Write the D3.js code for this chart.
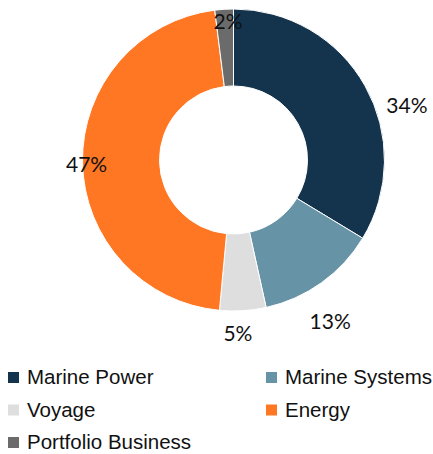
<!DOCTYPE html>
<html>
<head>
<meta charset="utf-8">
<script src="https://cdn.jsdelivr.net/npm/d3@7"></script>
<style>
  body { margin: 0; background: #fff; }
  svg { display: block; }
</style>
</head>
<body>
<div id="chart"></div>
<script>
// dati
var categories = ["Marine Power", "Marine Systems", "Voyage", "Energy", "Portfolio Business"];
var shares = [34, 13, 5, 47, 2];
var colors = ["#14344d", "#6693a6", "#dedede", "#ff7722", "#6b6b6b"];

// posizione etichette (raggio e spostamento angolare in gradi)
var labelR = [182, 187, 173, 147, 140];
var labelShift = [11.8, 4.5, 2.1, -0.6, 1.3];

var width = 433, height = 454;
var cx = 233.5, cy = 160, outerR = 151, innerR = 74;

var svg = d3.select("#chart")
  .append("svg")
    .attr("width", width)
    .attr("height", height);

var g = svg.append("g")
  .attr("transform", "translate(" + cx + "," + cy + ")");

var pie = d3.pie()
  .sort(null)
  .value(function(d) { return d; });

var arcs = pie(shares);

var arc = d3.arc()
  .innerRadius(innerR)
  .outerRadius(outerR);

// fette
g.selectAll("path")
  .data(arcs)
  .enter()
  .append("path")
    .attr("d", arc)
    .style("fill", function(d, i) { return colors[i]; })
    .style("stroke", "#fff")
    .style("stroke-width", 1);

// etichette percentuali
g.selectAll("text.lbl")
  .data(arcs)
  .enter()
  .append("text")
    .attr("class", "lbl")
    .attr("x", function(d, i) {
      var a = (d.startAngle + d.endAngle) / 2 + labelShift[i] * Math.PI / 180;
      return labelR[i] * Math.sin(a);
    })
    .attr("y", function(d, i) {
      var a = (d.startAngle + d.endAngle) / 2 + labelShift[i] * Math.PI / 180;
      return -labelR[i] * Math.cos(a);
    })
    .attr("text-anchor", "middle")
    .attr("dominant-baseline", "central")
    .style("font-family", "Lato, 'Open Sans', sans-serif")
    .style("font-size", "21px")
    .style("fill", "#111")
    .text(function(d, i) { return shares[i] + "%"; });

// legenda
var legend = svg.selectAll("g.leg")
  .data(categories)
  .enter()
  .append("g")
    .attr("class", "leg")
    .attr("transform", function(d, i) {
      var col = i % 2, row = Math.floor(i / 2);
      return "translate(" + (col === 0 ? 8 : 266) + "," + (372 + row * 32.5) + ")";
    });

legend.append("rect")
  .attr("width", 11)
  .attr("height", 11)
  .style("fill", function(d, i) { return colors[i]; });

legend.append("text")
  .attr("x", 19)
  .attr("y", 12)
  .style("font-family", "'Liberation Sans', Arial, sans-serif")
  .style("font-size", "20.5px")
  .style("fill", "#111")
  .text(function(d) { return d; });
</script>
</body>
</html>
